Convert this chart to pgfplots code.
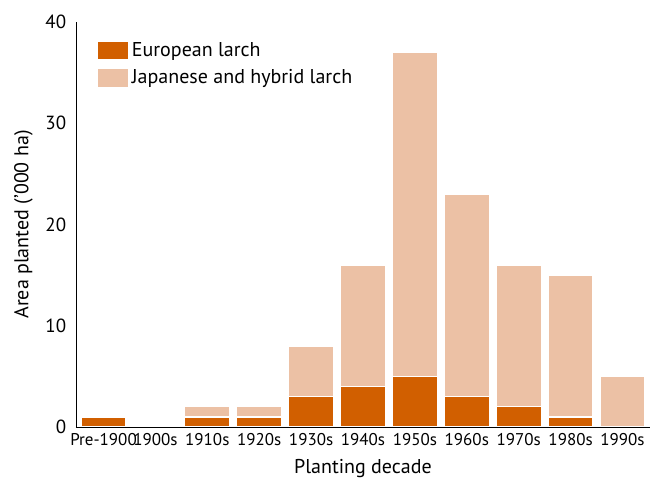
\documentclass[border=0pt]{standalone}
\usepackage{pgfplots}
\pgfplotsset{compat=1.18}
\usepackage{fontspec}
\setmainfont{PT Sans}
\definecolor{euro}{HTML}{D15F00}
\definecolor{japan}{HTML}{ECC1A5}
\begin{document}
\fontsize{20}{24}\selectfont
\begin{tikzpicture}
\path (-76pt,-54pt) rectangle (581pt,427pt);
\begin{axis}[
  at={(0,0)}, anchor=south west,
  scale only axis, width=574pt, height=405pt,
  ybar stacked, bar width=0.87,
  xmin=-0.53, xmax=10.53, ymin=0, ymax=40,
  axis x line=bottom, axis y line=left, axis on top,
  axis line style={-, line width=0.8pt},
  xtick={0,...,10},
  xticklabels={Pre-1900,1900s,1910s,1920s,1930s,1940s,1950s,1960s,1970s,1980s,1990s},
  ytick={0,10,20,30,40},
  major tick length=0pt,
  tick label style={font=\fontsize{17}{20}\selectfont},
  yticklabel style={font=\fontsize{19}{22}\selectfont, xshift=-3pt},
  /pgf/number format/assume math mode=true,
  xticklabel style={yshift=0pt},
  xlabel={Planting decade},
  ylabel={Area planted ('000 ha)},
  label style={font=\fontsize{20}{24}\selectfont},
  xlabel style={yshift=0pt},
  ylabel style={yshift=-1pt},
  legend style={draw=none, fill=none, at={(0.03,0.96)}, anchor=north west,
    font=\fontsize{20}{24}\selectfont, row sep=6pt},
  legend cell align=left,
  legend image code/.code={\fill[#1] (0pt,-9pt) rectangle (32pt,10pt);},
]
\addplot[fill=euro, draw=white, line width=1.5pt] coordinates {
  (0,1) (2,1) (3,1) (4,3) (5,4) (6,5) (7,3) (8,2) (9,1) (10,0)};
\addplot[fill=japan, draw=white, line width=1.5pt] coordinates {
  (0,0) (2,1) (3,1) (4,5) (5,12) (6,32) (7,20) (8,14) (9,14) (10,5)};
\legend{European larch, Japanese and hybrid larch}
\end{axis}
\end{tikzpicture}
\end{document}
